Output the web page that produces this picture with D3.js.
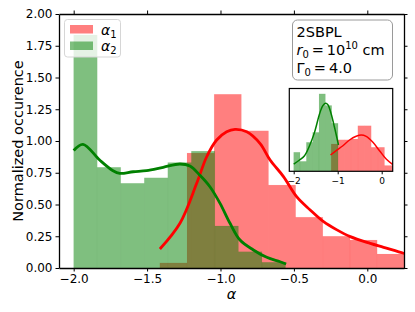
<!DOCTYPE html>
<html>
<head>
<meta charset="utf-8">
<script src="https://cdn.jsdelivr.net/npm/d3@7"></script>
<style>
body { margin: 0; background: #fff; }
svg { display: block; }
text { font-family: "DejaVu Sans", sans-serif; fill: #000; }
</style>
</head>
<body>
<svg id="chart" width="415" height="312"></svg>
<script>
// --- histogram of alpha_1 (red), bin edges + density heights
var alpha1Edges = [-1.413, -1.228, -1.043, -0.858, -0.673, -0.488, -0.303, -0.118, 0.067, 0.252];
var alpha1Heights = [0.04, 0.905, 1.368, 1.08, 0.653, 0.40, 0.25, 0.22, 0.11];
// --- histogram of alpha_2 (green)
var alpha2Edges = [-2.0, -1.8397, -1.6794, -1.5191, -1.3588, -1.1985, -1.0382, -0.8779, -0.7176, -0.5573];
var alpha2Heights = [1.835, 0.793, 0.667, 0.71, 0.83, 0.92, 0.331, 0.128, 0.045];

// kde curves
var alpha1KdeX = [-1.413, -1.276, -1.162, -1.094, -1.026, -0.958, -0.901, -0.821, -0.730, -0.662, -0.571, -0.480, -0.389, -0.298, -0.207, -0.116, 0.020, 0.111, 0.248, 0.30];
var alpha1KdeY = [0.15, 0.353, 0.667, 0.876, 1.008, 1.073, 1.092, 1.073, 0.98, 0.85, 0.72, 0.56, 0.457, 0.365, 0.30, 0.247, 0.194, 0.163, 0.116, 0.10];
var alpha2KdeX = [-2.0, -1.937, -1.823, -1.732, -1.686, -1.595, -1.504, -1.390, -1.276, -1.208, -1.140, -1.072, -1.003, -0.935, -0.867, -0.776, -0.685, -0.594, -0.553];
var alpha2KdeY = [0.925, 0.974, 0.85, 0.766, 0.745, 0.758, 0.766, 0.793, 0.819, 0.803, 0.73, 0.64, 0.509, 0.352, 0.22, 0.142, 0.084, 0.049, 0.031];

// inset panel
var insetAlpha1Edges = [-1.148, -0.997, -0.845, -0.694, -0.542, -0.391, -0.239, -0.088, 0.064, 0.215, 0.367];
var insetAlpha1Heights = [0.66, 0.76, 0.76, 0.78, 1.10, 1.10, 0.58, 0.58, 0.14, 0.14];
var insetAlpha2Edges = [-2.0, -1.856, -1.712, -1.568, -1.424, -1.28, -1.136, -0.992];
var insetAlpha2Heights = [0.46, 0.24, 0.70, 0.94, 1.87, 1.59, 1.16];
var insetAlpha1KdeX = [-1.163, -1.034, -0.882, -0.731, -0.58, -0.466, -0.352, -0.2, -0.05, 0.102, 0.254];
var insetAlpha1KdeY = [0.394, 0.498, 0.618, 0.756, 0.845, 0.877, 0.845, 0.70, 0.498, 0.297, 0.16];
var insetAlpha2KdeX = [-2.0, -1.868, -1.754, -1.64, -1.527, -1.413, -1.337, -1.277, -1.223, -1.148, -1.073, -0.982];
var insetAlpha2KdeY = [0.176, 0.273, 0.377, 0.618, 0.94, 1.384, 1.585, 1.642, 1.609, 1.384, 1.063, 0.635];

var xTicks = [-2.0, -1.5, -1.0, -0.5, 0.0];
var yTicks = [0, 0.25, 0.5, 0.75, 1.0, 1.25, 1.5, 1.75, 2.0];
var insetXTicks = [-2, -1, 0];
var boxLines = ["2SBPL"];

var svg = d3.select("#chart");
var m = {left: 59, right: 404, top: 14, bottom: 268};

var x = d3.scaleLinear().domain([-2.1, 0.25]).range([m.left, m.right]);
var y = d3.scaleLinear().domain([0, 2.0]).range([m.bottom, m.top]);

var minus = function (s) { return s.replace("-", "\u2212"); };

svg.append("clipPath").attr("id", "clipMain")
  .append("rect").attr("x", m.left).attr("y", m.top)
  .attr("width", m.right - m.left).attr("height", m.bottom - m.top);

function bars(g, edges, heights, xs, ys, color) {
  g.selectAll(null).data(heights).enter().append("rect")
    .attr("x", function (d, i) { return xs(edges[i]); })
    .attr("width", function (d, i) { return xs(edges[i + 1]) - xs(edges[i]); })
    .attr("y", function (d) { return ys(d); })
    .attr("height", function (d) { return ys(0) - ys(d); })
    .attr("fill", color).attr("fill-opacity", 0.5)
    .attr("stroke", color).attr("stroke-opacity", 0.08).attr("stroke-width", 0.6);
}

function kde(g, xv, yv, xs, ys, color, w) {
  var pts = xv.map(function (d, i) { return [d, yv[i]]; });
  var line = d3.line().x(function (d) { return xs(d[0]); }).y(function (d) { return ys(d[1]); })
    .curve(d3.curveCatmullRom.alpha(0.5));
  g.append("path").datum(pts).attr("d", line)
    .attr("fill", "none").attr("stroke", color).attr("stroke-width", w);
}

var plot = svg.append("g").attr("clip-path", "url(#clipMain)");
bars(plot.append("g"), alpha1Edges, alpha1Heights, x, y, "#ff0000");
bars(plot.append("g"), alpha2Edges, alpha2Heights, x, y, "#008000");
kde(plot, alpha1KdeX, alpha1KdeY, x, y, "#ff0000", 2.8);
kde(plot, alpha2KdeX, alpha2KdeY, x, y, "#008000", 2.8);

// axes, ticks out on all four sides
function styleAxis(g) {
  g.select(".domain").attr("stroke-width", 1.3);
  g.selectAll(".tick line").attr("stroke-width", 1);
  g.selectAll("text").attr("font-size", 12).attr("fill", "#000");
}
svg.append("g").attr("transform", "translate(0," + m.bottom + ")")
  .call(d3.axisBottom(x).tickValues(xTicks).tickSize(3.5).tickSizeOuter(0).tickPadding(3)
    .tickFormat(function (d) { return minus(d3.format(".1f")(d)); }))
  .call(styleAxis);
svg.append("g").attr("transform", "translate(0," + m.top + ")")
  .call(d3.axisTop(x).tickValues(xTicks).tickSize(3.5).tickSizeOuter(0).tickFormat(""))
  .call(styleAxis);
svg.append("g").attr("transform", "translate(" + m.left + ",0)")
  .call(d3.axisLeft(y).tickValues(yTicks).tickSize(3.5).tickSizeOuter(0).tickPadding(3)
    .tickFormat(d3.format(".2f")))
  .call(styleAxis);
svg.append("g").attr("transform", "translate(" + m.right + ",0)")
  .call(d3.axisRight(y).tickValues(yTicks).tickSize(3.5).tickSizeOuter(0).tickFormat(""))
  .call(styleAxis);

svg.append("text").attr("transform", "translate(23," + ((m.top + m.bottom) / 2) + ") rotate(-90)")
  .attr("text-anchor", "middle").attr("font-size", 14.5).text("Normalized occurence");
svg.append("text").attr("x", (m.left + m.right) / 2).attr("y", 299)
  .attr("text-anchor", "middle").attr("font-size", 14.5).attr("font-style", "italic").text("\u03b1");

// legend
var leg = svg.append("g");
leg.append("rect").attr("x", 64.5).attr("y", 19.5).attr("width", 56).attr("height", 37.5).attr("rx", 3)
  .attr("fill", "#fff").attr("fill-opacity", 0.8).attr("stroke", "#d6d6d6").attr("stroke-width", 1);
[["#ff0000", "1", 25], ["#008000", "2", 41.5]].forEach(function (e) {
  leg.append("rect").attr("x", 70).attr("y", e[2]).attr("width", 23).attr("height", 8.5)
    .attr("fill", e[0]).attr("fill-opacity", 0.5);
  var t = leg.append("text").attr("x", 101).attr("y", e[2] + 9.5).attr("font-size", 14);
  t.append("tspan").attr("font-style", "italic").text("\u03b1");
  t.append("tspan").attr("font-size", 10).attr("dy", 3).text(e[1]);
});

// text box
var box = svg.append("g");
box.append("rect").attr("x", 292.5).attr("y", 20).attr("width", 100).attr("height", 60).attr("rx", 5)
  .attr("fill", "#fff").attr("stroke", "#9a9a9a").attr("stroke-width", 1);
box.append("text").attr("x", 296.5).attr("y", 36.5).attr("font-size", 14.5).text(boxLines[0]);
var t2 = box.append("text").attr("x", 296.5).attr("y", 55).attr("font-size", 14.5);
t2.append("tspan").attr("font-style", "italic").text("r");
t2.append("tspan").attr("font-size", 10).attr("dy", 3).text("0");
t2.append("tspan").attr("dy", -3).text("\u2009=\u200910");
t2.append("tspan").attr("font-size", 10).attr("dy", -6).text("10");
t2.append("tspan").attr("dy", 6).text(" cm");
var t3 = box.append("text").attr("x", 296.5).attr("y", 72.5).attr("font-size", 14.5);
t3.append("tspan").text("\u0393");
t3.append("tspan").attr("font-size", 10).attr("dy", 3).text("0");
t3.append("tspan").attr("dy", -3).text("\u2009=\u20094.0");

// inset
var im = {left: 289.3, right: 392.7, top: 88.5, bottom: 171.3};
var ix = d3.scaleLinear().domain([-2.1, 0.25]).range([im.left, im.right]);
var iy = d3.scaleLinear().domain([0, 2.0]).range([im.bottom, im.top]);
svg.append("clipPath").attr("id", "clipInset")
  .append("rect").attr("x", im.left).attr("y", im.top)
  .attr("width", im.right - im.left).attr("height", im.bottom - im.top);
svg.append("rect").attr("x", im.left).attr("y", im.top)
  .attr("width", im.right - im.left).attr("height", im.bottom - im.top).attr("fill", "#fff");
var inset = svg.append("g").attr("clip-path", "url(#clipInset)");
bars(inset.append("g"), insetAlpha1Edges, insetAlpha1Heights, ix, iy, "#ff0000");
bars(inset.append("g"), insetAlpha2Edges, insetAlpha2Heights, ix, iy, "#008000");
kde(inset, insetAlpha1KdeX, insetAlpha1KdeY, ix, iy, "#ff0000", 1.5);
kde(inset, insetAlpha2KdeX, insetAlpha2KdeY, ix, iy, "#008000", 1.5);
svg.append("rect").attr("x", im.left).attr("y", im.top)
  .attr("width", im.right - im.left).attr("height", im.bottom - im.top)
  .attr("fill", "none").attr("stroke", "#000").attr("stroke-width", 1.2);
var iax = svg.append("g").attr("transform", "translate(0," + im.bottom + ")")
  .call(d3.axisBottom(ix).tickValues(insetXTicks).tickSize(3).tickSizeOuter(0).tickPadding(3)
    .tickFormat(function (d) { return minus(String(d)); }));
iax.select(".domain").remove();
iax.selectAll("text").attr("font-size", 9).attr("fill", "#000");
</script>
</body>
</html>
